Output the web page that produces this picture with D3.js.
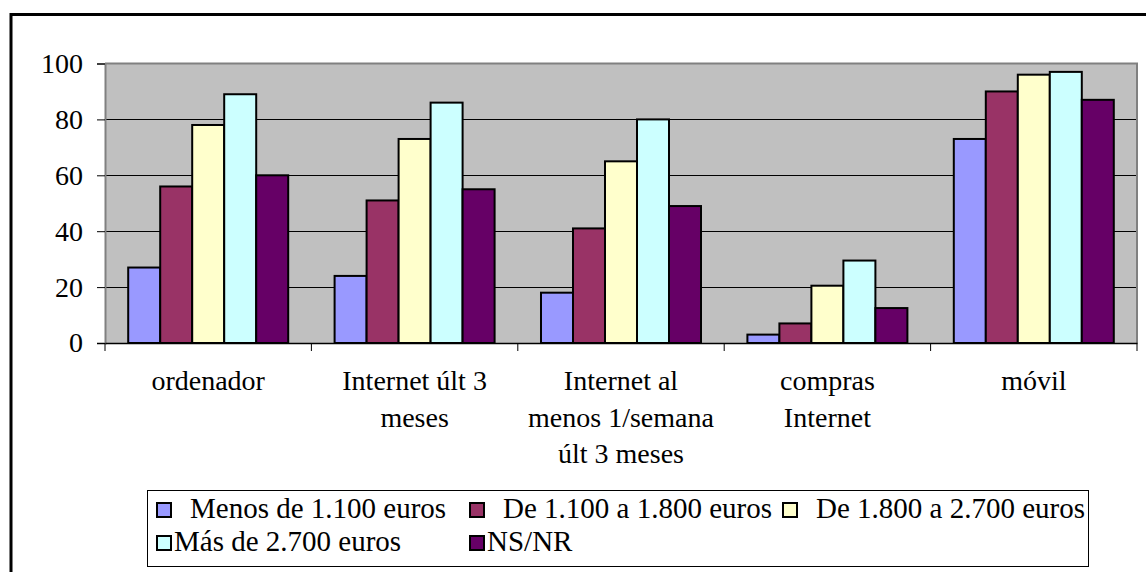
<html>
<head>
<meta charset="utf-8">
<script src="https://cdn.jsdelivr.net/npm/d3@7"></script>
</head>
<body style="margin:0">
<svg id="chart" width="1146" height="572" font-family="Liberation Serif"></svg>
<script>
// ---- data ----
const categories = ["ordenador", "Internet últ 3\nmeses", "Internet al\nmenos 1/semana\núlt 3 meses", "compras\nInternet", "móvil"];
const seriesNames = ["Menos de 1.100 euros", "De 1.100 a 1.800 euros", "De 1.800 a 2.700 euros", "Más de 2.700 euros", "NS/NR"];
const menos1100 = [27, 24, 18, 3, 73];
const de1100a1800 = [56, 51, 41, 7, 90];
const de1800a2700 = [78, 73, 65, 20.5, 96];
const mas2700 = [89, 86, 80, 29.5, 97];
const nsnr = [60, 55, 49, 12.5, 87];
const yTicks = [0, 20, 40, 60, 80, 100];
const colors = ["#9999FF", "#993366", "#FFFFCC", "#CCFFFF", "#660066"];

const seriesValues = [menos1100, de1100a1800, de1800a2700, mas2700, nsnr];

// ---- layout ----
const W = 1146, H = 572;
const plot = { left: 105, right: 1137, top: 63.5, bottom: 343 };
const FONT = 28;
const LEGEND_FONT = 29;
const FAMILY = "Liberation Serif";

const svg = d3.select("#chart");

function styleText(sel, size) {
  return sel.style("font-family", FAMILY).attr("font-size", size || FONT).attr("fill", "#000");
}

// outer frame (left & top edges visible)
svg.append("path")
  .attr("d", `M11,${H + 10} V14.5 H${W + 10}`)
  .attr("fill", "none").attr("stroke", "#000").attr("stroke-width", 3);

const x0 = d3.scaleBand().domain(categories).range([plot.left, plot.right]).paddingInner(0).paddingOuter(0);
const x1 = d3.scaleBand().domain(seriesNames).range([0, x0.bandwidth()]).paddingInner(0).paddingOuter(0.725);
const y = d3.scaleLinear().domain([0, 100]).range([plot.bottom, plot.top]);

// plot background
svg.append("rect")
  .attr("x", plot.left).attr("y", plot.top)
  .attr("width", plot.right - plot.left).attr("height", plot.bottom - plot.top)
  .attr("fill", "#C0C0C0");

// gridlines
svg.append("g").selectAll("line")
  .data(yTicks.filter(d => d > 0 && d < 100))
  .join("line")
  .attr("x1", plot.left).attr("x2", plot.right)
  .attr("y1", d => Math.round(y(d)) + 0.5).attr("y2", d => Math.round(y(d)) + 0.5)
  .attr("stroke", "#000").attr("stroke-width", 1);

// plot border top/right
svg.append("path")
  .attr("d", `M${plot.left},${plot.top} H${plot.right} V${plot.bottom}`)
  .attr("fill", "none").attr("stroke", "#808080").attr("stroke-width", 2);

// bars
const groups = svg.append("g").selectAll("g")
  .data(categories)
  .join("g")
  .attr("transform", d => `translate(${x0(d)},0)`);

groups.selectAll("rect")
  .data((c, ci) => seriesNames.map((s, si) => ({ s, si, v: seriesValues[si][ci] })))
  .join("rect")
  .attr("x", d => x1(d.s))
  .attr("y", d => y(d.v))
  .attr("width", x1.bandwidth())
  .attr("height", d => y(0) - y(d.v))
  .attr("fill", d => colors[d.si])
  .attr("stroke", "#000")
  .attr("stroke-width", 2);

// y axis
const yAxis = svg.append("g")
  .attr("transform", `translate(${plot.left},0)`)
  .call(d3.axisLeft(y).tickValues(yTicks).tickSize(8).tickPadding(14).tickFormat(d3.format("d")));
yAxis.attr("font-family", FAMILY).attr("font-size", FONT);
yAxis.select(".domain").attr("stroke", "#808080").attr("stroke-width", 2);
yAxis.selectAll(".tick line").attr("stroke", "#000");
styleText(yAxis.selectAll(".tick text"));

// x axis (ticks at category boundaries)
const xAxis = svg.append("g")
  .attr("transform", `translate(0,${plot.bottom})`)
  .call(d3.axisBottom(x0).tickSize(0).tickFormat(""));
xAxis.attr("font-family", FAMILY);
xAxis.selectAll(".tick").remove();
xAxis.select(".domain").attr("stroke", "#000").attr("stroke-width", 1.5);
const boundaries = categories.map(c => x0(c)).concat([x0.range()[1]]);
xAxis.append("g").selectAll("line")
  .data(boundaries)
  .join("line")
  .attr("x1", d => d).attr("x2", d => d)
  .attr("y1", 0).attr("y2", 8)
  .attr("stroke", "#000").attr("stroke-width", 1);

// category labels (one text per line)
categories.forEach(c => {
  c.split("\n").forEach((line, i) => {
    styleText(svg.append("text"))
      .attr("text-anchor", "middle")
      .attr("x", x0(c) + x0.bandwidth() / 2)
      .attr("y", 390 + i * 36.5)
      .text(line);
  });
});

// legend
svg.append("rect")
  .attr("x", 147.5).attr("y", 490.5).attr("width", 941).attr("height", 76)
  .attr("fill", "#fff").attr("stroke", "#000").attr("stroke-width", 1);
const colX = [157, 470, 783];
const rowSwatchY = [503, 536];
const rowBase = [518, 551];
seriesNames.forEach((name, i) => {
  const row = i < 3 ? 0 : 1;
  const col = i < 3 ? i : i - 3;
  const sx = colX[col];
  svg.append("rect")
    .attr("x", sx).attr("y", rowSwatchY[row])
    .attr("width", 14).attr("height", 14)
    .attr("fill", colors[i]).attr("stroke", "#000").attr("stroke-width", 2);
  styleText(svg.append("text"), LEGEND_FONT)
    .attr("x", sx + (row === 0 ? 33 : 17))
    .attr("y", rowBase[row])
    .text(name);
});
</script>
</body>
</html>
